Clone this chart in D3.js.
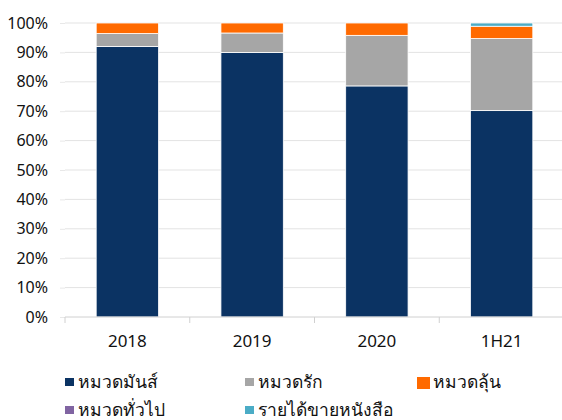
<!DOCTYPE html>
<html>
<head>
<meta charset="utf-8">
<script src="https://cdn.jsdelivr.net/npm/d3@7"></script>
<style>
  html, body { margin: 0; padding: 0; background: #fff; }
  svg text { font-family: "Noto Sans", "Open Sans", sans-serif; fill: #111; }
</style>
</head>
<body>
<svg id="chart" width="562" height="420"></svg>
<script>
// Revenue mix by book category (% of total)
const periods = ["2018", "2019", "2020", "1H21"];
const seriesNames = ["หมวดมันส์", "หมวดรัก", "หมวดลุ้น", "หมวดทั่วไป", "รายได้ขายหนังสือ"];
const fun     = [92.0, 90.0, 78.6, 70.2];
const romance = [4.4, 6.6, 17.2, 24.5];
const thrill  = [3.6, 3.4, 4.2, 4.2];
const general = [0, 0, 0, 0];
const sales   = [0, 0, 0, 1.1];
const yTicks  = [0, 10, 20, 30, 40, 50, 60, 70, 80, 90, 100];
const colors  = ["#0b3363", "#a6a6a6", "#ff6a00", "#8064a2", "#4bacc6"];

const rows = periods.map((p, i) => ({
  period: p,
  [seriesNames[0]]: fun[i],
  [seriesNames[1]]: romance[i],
  [seriesNames[2]]: thrill[i],
  [seriesNames[3]]: general[i],
  [seriesNames[4]]: sales[i]
}));

const svg = d3.select("#chart");
const plotLeft = 65, plotRight = 564, plotTop = 23, plotBottom = 317;

const x = d3.scaleBand().domain(periods).range([plotLeft, plotRight]).paddingInner(0.5).paddingOuter(0.25);
const y = d3.scaleLinear().domain([0, 100]).range([plotBottom, plotTop]);

// horizontal gridlines
svg.append("g")
  .selectAll("line")
  .data(yTicks.filter(t => t > 0))
  .join("line")
  .attr("x1", plotLeft).attr("x2", 562)
  .attr("y1", d => y(d)).attr("y2", d => y(d))
  .attr("stroke", "#e3e3e3").attr("stroke-width", 1);

// y axis labels
const yAxis = d3.axisLeft(y).tickValues(yTicks).tickFormat(d => d + "%").tickSize(5).tickPadding(12);
const gy = svg.append("g").attr("transform", `translate(${plotLeft},0)`).call(yAxis);
gy.select(".domain").remove();
gy.selectAll(".tick line").attr("stroke", "#e8e8e8");
gy.selectAll(".tick text").style("font-size", "16px").attr("fill", "#111");

// stacked bars
const stack = d3.stack().keys(seriesNames);
const layers = stack(rows);
svg.append("g")
  .selectAll("g")
  .data(layers)
  .join("g")
  .attr("fill", (d, i) => colors[i])
  .selectAll("rect")
  .data(d => d.filter(s => s[1] - s[0] > 0))
  .join("rect")
  .attr("x", d => x(d.data.period))
  .attr("width", x.bandwidth())
  .attr("y", d => y(d[1]))
  .attr("height", d => y(d[0]) - y(d[1]))
  .attr("stroke", "#fff")
  .attr("stroke-width", 0.8);

// x axis with category separators
const bw = x.step();
const gx = svg.append("g").attr("transform", `translate(0,${plotBottom})`);
gx.append("line").attr("x1", plotLeft).attr("x2", 562).attr("y1", 0).attr("y2", 0).attr("stroke", "#d0d0d0");
gx.selectAll(".sep")
  .data(d3.range(periods.length))
  .join("line")
  .attr("class", "sep")
  .attr("x1", i => plotLeft + i * bw).attr("x2", i => plotLeft + i * bw)
  .attr("y1", 0).attr("y2", 6)
  .attr("stroke", "#d0d0d0");
gx.selectAll("text")
  .data(periods)
  .join("text")
  .attr("x", d => x(d) + x.bandwidth() / 2)
  .attr("y", 30)
  .attr("text-anchor", "middle")
  .style("font-size", "17px")
  .text(d => d);

// legend
const legendPos = [
  { x: 65, y: 383 }, { x: 245, y: 383 }, { x: 417, y: 383 },
  { x: 65, y: 411 }, { x: 245, y: 411 }
];
const lg = svg.append("g")
  .selectAll("g")
  .data(seriesNames)
  .join("g")
  .attr("transform", (d, i) => `translate(${legendPos[i].x},${legendPos[i].y})`);
lg.append("rect")
  .attr("x", 0)
  .attr("width", (d, i) => i === 2 ? 13 : 9)
  .attr("height", (d, i) => i === 2 ? 12 : 8)
  .attr("y", (d, i) => i === 2 ? -6 : -5)
  .attr("fill", (d, i) => colors[i]);
lg.append("text")
  .attr("x", (d, i) => i === 2 ? 16 : 13)
  .attr("y", 5)
  .style("font-size", "17.5px")
  .text(d => d);
</script>
</body>
</html>
